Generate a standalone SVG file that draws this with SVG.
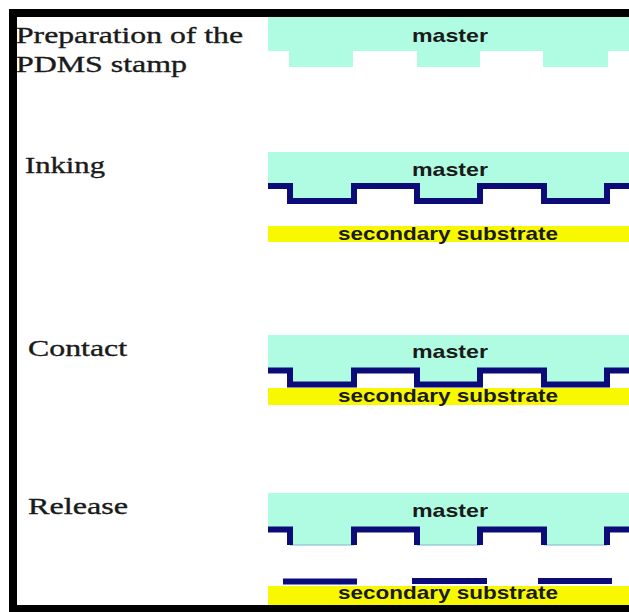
<svg xmlns="http://www.w3.org/2000/svg" width="629" height="612" viewBox="0 0 629 612">
<style>
.lbl{font-family:"Liberation Serif","Times New Roman",serif;font-size:23px;fill:#1a1a1a;stroke:#1a1a1a;stroke-width:0.35}
.mt{font-family:"Liberation Sans",Arial,sans-serif;font-weight:bold;font-size:19px;fill:#1a1a1a}
.cyan{fill:#b0fce2}
.yel{fill:#f8f800}
.ink{fill:none;stroke:#0c0c78;stroke-width:6;stroke-linejoin:miter}
.inkf{fill:#0c0c78}
</style>
<rect width="629" height="612" fill="#ffffff"/>
<g id="frame" fill="#000">
<rect x="9" y="9" width="620" height="8"/>
<rect x="9" y="9" width="8" height="603"/>
<rect x="9" y="605" width="620" height="7"/>
</g>
<g id="labels">
<text class="lbl" x="16" y="43" textLength="227" lengthAdjust="spacingAndGlyphs">Preparation of the</text>
<text class="lbl" x="16" y="72" textLength="171" lengthAdjust="spacingAndGlyphs">PDMS stamp</text>
<text class="lbl" x="25" y="173" textLength="80" lengthAdjust="spacingAndGlyphs">Inking</text>
<text class="lbl" x="28" y="356" textLength="99" lengthAdjust="spacingAndGlyphs">Contact</text>
<text class="lbl" x="28" y="514" textLength="100" lengthAdjust="spacingAndGlyphs">Release</text>
</g>
<g id="stage-preparation">
<path class="cyan" d="M268,17 H629 V51 H608 V67 H543 V51 H480 V67 H417 V51 H353 V67 H289 V51 H268 Z"/>
<text class="mt" x="412" y="42" textLength="76" lengthAdjust="spacingAndGlyphs">master</text>
</g>
<g id="stage-inking">
<path class="cyan" d="M268,152 H629 V186 H607 V201 H544 V186 H480 V201 H417 V186 H354 V201 H290 V186 H268 Z"/>
<text class="mt" x="412" y="176" textLength="76" lengthAdjust="spacingAndGlyphs">master</text>
<path class="ink" d="M268,186 H290 V201 H354 V186 H417 V201 H480 V186 H544 V201 H607 V186 H629"/>
<rect class="yel" x="268" y="226" width="361" height="16"/>
<text class="mt" x="338" y="240" textLength="220" lengthAdjust="spacingAndGlyphs">secondary substrate</text>
</g>
<g id="stage-contact">
<path class="cyan" d="M268,335 H629 V370 H607 V385 H544 V370 H480 V385 H417 V370 H354 V385 H290 V370 H268 Z"/>
<text class="mt" x="412" y="358" textLength="76" lengthAdjust="spacingAndGlyphs">master</text>
<path class="ink" d="M268,370.5 H290 V384.5 H354 V370.5 H417 V384.5 H480 V370.5 H544 V384.5 H607 V370.5 H629"/>
<rect class="yel" x="268" y="388" width="361" height="17"/>
<text class="mt" x="338" y="402" textLength="220" lengthAdjust="spacingAndGlyphs">secondary substrate</text>
</g>
<g id="stage-release">
<path class="cyan" d="M268,493 H629 V529 H607 V545 H544 V529 H480 V545 H417 V529 H354 V545 H290 V529 H268 Z"/>
<path d="M290,545 H354 M417,545 H480 M544,545 H607" stroke="#7fb8c8" stroke-width="1" fill="none"/>
<text class="mt" x="412" y="517" textLength="76" lengthAdjust="spacingAndGlyphs">master</text>
<path class="ink" d="M268,529.5 H290 V545 M354,545 V529.5 H417 V545 M480,545 V529.5 H544 V545 M607,545 V529.5 H629"/>
<rect class="inkf" x="283" y="578.5" width="74" height="6"/>
<rect class="inkf" x="412" y="578" width="75" height="6"/>
<rect class="inkf" x="538" y="578" width="74" height="6"/>
<rect class="yel" x="268" y="586" width="361" height="19"/>
<text class="mt" x="338" y="599" textLength="220" lengthAdjust="spacingAndGlyphs">secondary substrate</text>
</g>
</svg>
